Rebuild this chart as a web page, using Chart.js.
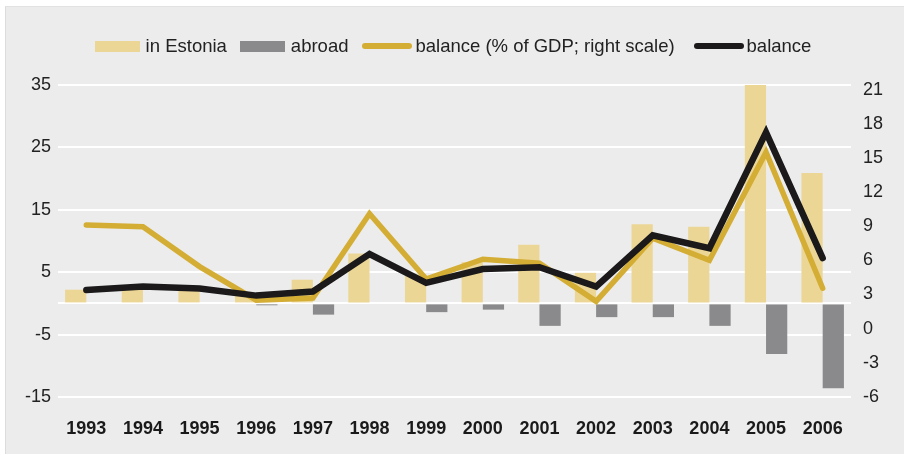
<!DOCTYPE html>
<html>
<head>
<meta charset="utf-8">
<script src="https://cdn.jsdelivr.net/npm/chart.js@4"></script>
<style>
  html, body { margin: 0; padding: 0; background: #fff; }
  #wrap { position: relative; width: 906px; height: 455px; }
  #panel { position: absolute; left: 5px; top: 6px; width: 898px; height: 447px; background: #ececec; border-left: 1px solid #dcdcdc; border-top: 1px solid #e2e2e2; }
  #chartBox { position: absolute; left: 0; top: 0; width: 906px; height: 455px; }
  #legend { position: absolute; left: 0; top: 35px; width: 906px; display: flex; justify-content: center; align-items: center;
    font-family: "Liberation Sans", Arial, Helvetica, sans-serif; font-size: 18.5px; color: #222; }
  .item { display: flex; align-items: center; margin-right: 13px; }
  .item:last-child { margin-right: 0; }
  .box { width: 45px; height: 11px; margin-right: 6px; }
  .line { width: 50px; height: 6px; border-radius: 3px; margin-right: 3px; }
</style>
</head>
<body>
<div id="wrap">
  <div id="panel"></div>
  <div id="chartBox"><canvas id="chart" width="906" height="455"></canvas></div>
  <div id="legend"></div>
</div>
<script>
// data
const years = ['1993', '1994', '1995', '1996', '1997', '1998', '1999', '2000', '2001', '2002', '2003', '2004', '2005', '2006'];
const inEstonia = [2.2, 2.2, 2.2, 1.2, 3.8, 8.0, 4.6, 6.6, 9.4, 4.9, 12.7, 12.3, 35.2, 20.9];
const abroad = [0, 0, 0, -0.3, -1.8, 0, -1.4, -1.0, -3.6, -2.2, -2.2, -3.6, -8.1, -13.6];
const balance = [2.15, 2.7, 2.4, 1.25, 1.9, 7.9, 3.3, 5.5, 5.8, 2.7, 10.9, 8.85, 27.4, 7.25];
const balanceGdp = [9.1, 8.95, 5.45, 2.5, 2.7, 10.1, 4.35, 6.1, 5.75, 2.4, 7.95, 6.0, 15.5, 3.55];

const leftTicks = [-15, -5, 5, 15, 25, 35];
const leftGrid = [-15, -5, 0, 5, 15, 25, 35];
const rightTicks = [-6, -3, 0, 3, 6, 9, 12, 15, 18, 21];

const tan = '#ecd696';
const grey = '#8a8a8c';
const gold = '#d4ad34';
const black = '#1b191a';
const fontFamily = '"Liberation Sans", Arial, Helvetica, sans-serif';

// html legend
const legendItems = [
  { label: 'in Estonia', color: tan, kind: 'box', gap: 13 },
  { label: 'abroad', color: grey, kind: 'box', gap: 14 },
  { label: 'balance (% of GDP; right scale)', color: gold, kind: 'line', gap: 19 },
  { label: 'balance', color: black, kind: 'line', gap: 0 }
];
const legendEl = document.getElementById('legend');
legendItems.forEach(it => {
  const d = document.createElement('div');
  d.className = 'item';
  d.style.marginRight = it.gap + 'px';
  const sw = document.createElement('span');
  sw.className = it.kind;
  sw.style.background = it.color;
  const t = document.createElement('span');
  t.textContent = it.label;
  d.appendChild(sw);
  d.appendChild(t);
  legendEl.appendChild(d);
});

new Chart(document.getElementById('chart'), {
  data: {
    labels: years,
    datasets: [
      {
        type: 'line', label: 'balance', data: balance, yAxisID: 'y', order: 0,
        borderColor: black, borderWidth: 6.5, pointRadius: 0, tension: 0,
        borderCapStyle: 'round', borderJoinStyle: 'miter'
      },
      {
        type: 'line', label: 'balance (% of GDP; right scale)', data: balanceGdp, yAxisID: 'y2', order: 1,
        borderColor: gold, borderWidth: 5.5, pointRadius: 0, tension: 0,
        borderCapStyle: 'round', borderJoinStyle: 'miter'
      },
      {
        type: 'bar', label: 'in Estonia', data: inEstonia, yAxisID: 'y', order: 2,
        backgroundColor: tan, barPercentage: 1, categoryPercentage: 0.75
      },
      {
        type: 'bar', label: 'abroad', data: abroad, yAxisID: 'y', order: 3,
        backgroundColor: grey, barPercentage: 1, categoryPercentage: 0.75
      }
    ]
  },
  options: {
    responsive: false,
    animation: false,
    layout: { padding: { top: 85, left: 0, right: 0, bottom: 0 } },
    plugins: {
      legend: { display: false },
      tooltip: { enabled: false }
    },
    scales: {
      x: {
        offset: true,
        grid: { display: false },
        border: { display: false },
        ticks: { color: '#1a1a1a', padding: 13, font: { family: fontFamily, size: 18, weight: 'bold' }, maxRotation: 0 },
        afterFit: (s) => { s.height = 58; }
      },
      y: {
        position: 'left',
        min: -15, max: 35,
        afterBuildTicks: (s) => { s.ticks = leftGrid.map(v => ({ value: v })); },
        grid: { color: '#ffffff', lineWidth: 2, drawTicks: false },
        border: { display: false },
        ticks: {
          color: '#222', padding: 7, font: { family: fontFamily, size: 18 },
          callback: (v) => leftTicks.includes(v) ? String(v) : ''
        },
        afterFit: (s) => { s.width = 58; }
      },
      y2: {
        position: 'right',
        min: -6, max: 21.4,
        afterBuildTicks: (s) => { s.ticks = rightTicks.map(v => ({ value: v })); },
        grid: { display: false, drawTicks: false },
        border: { display: false },
        ticks: { color: '#222', padding: 12, font: { family: fontFamily, size: 18 } },
        afterFit: (s) => { s.width = 55; }
      }
    }
  }
});
</script>
</body>
</html>
